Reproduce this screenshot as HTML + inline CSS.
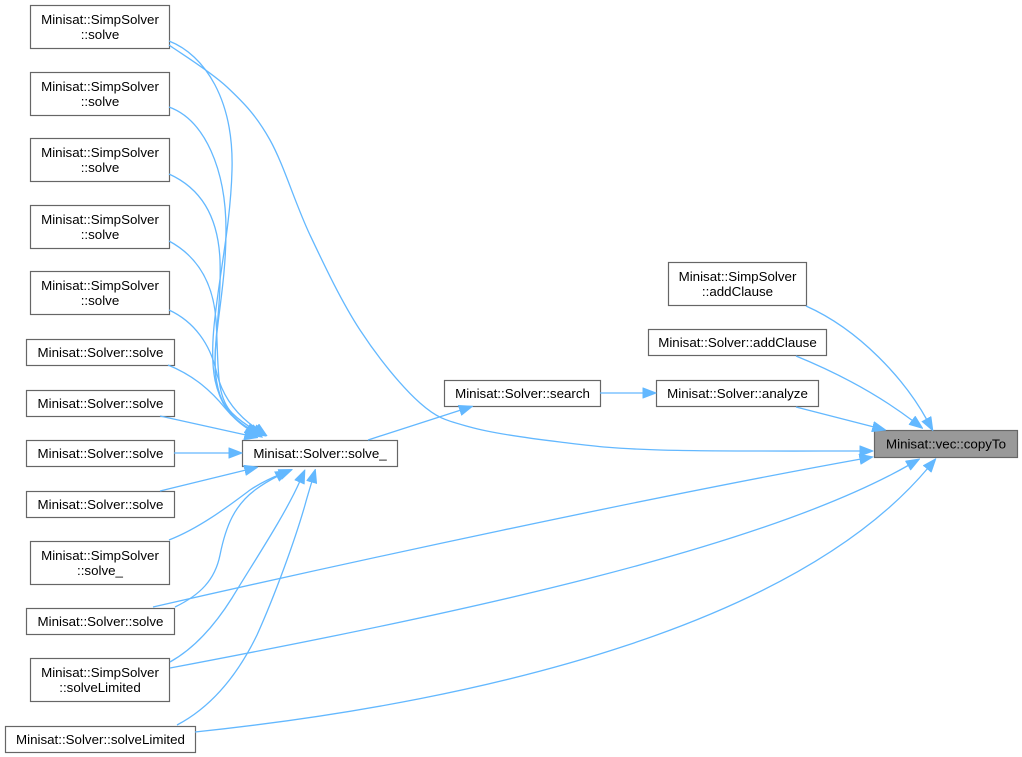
<!DOCTYPE html>
<html>
<head>
<meta charset="utf-8">
<style>
html,body{margin:0;padding:0;background:#ffffff;}
svg{display:block;}
text{font-family:"Liberation Sans",Arial,sans-serif;font-size:13.33px;fill:#000;text-anchor:middle;}
.n{fill:#ffffff;stroke:#666666;stroke-width:1.2;}
.g{fill:#999999;stroke:#666666;stroke-width:1.2;}
.e{fill:none;stroke:#63b8ff;stroke-width:1.3;marker-end:url(#a);}
</style>
</head>
<body>
<svg width="1022" height="757" viewBox="0 0 1022 757" xmlns="http://www.w3.org/2000/svg">
<defs>
<marker id="a" markerWidth="14" markerHeight="11" refX="1.5" refY="5.5" orient="auto" markerUnits="userSpaceOnUse" viewBox="0 0 14 11">
<path d="M0.5,0.5L13.5,5.5L0.5,10.5z" fill="#63b8ff" stroke="#63b8ff" stroke-width="1"/>
</marker>
</defs>

<!-- Nodes -->
<rect class="n" x="30.5" y="5.5" width="139" height="43"/>
<text x="100" y="24">Minisat::SimpSolver</text>
<text x="100" y="39">::solve</text>

<rect class="n" x="30.5" y="72.5" width="139" height="43"/>
<text x="100" y="91">Minisat::SimpSolver</text>
<text x="100" y="106">::solve</text>

<rect class="n" x="30.5" y="138.5" width="139" height="43"/>
<text x="100" y="157">Minisat::SimpSolver</text>
<text x="100" y="172">::solve</text>

<rect class="n" x="30.5" y="205.5" width="139" height="43"/>
<text x="100" y="224">Minisat::SimpSolver</text>
<text x="100" y="239">::solve</text>

<rect class="n" x="30.5" y="271.5" width="139" height="43"/>
<text x="100" y="290">Minisat::SimpSolver</text>
<text x="100" y="305">::solve</text>

<rect class="n" x="26.5" y="339.5" width="148" height="26"/>
<text x="100.5" y="357">Minisat::Solver::solve</text>

<rect class="n" x="26.5" y="390.5" width="148" height="26"/>
<text x="100.5" y="408">Minisat::Solver::solve</text>

<rect class="n" x="26.5" y="440.5" width="148" height="26"/>
<text x="100.5" y="458">Minisat::Solver::solve</text>

<rect class="n" x="26.5" y="491.5" width="148" height="26"/>
<text x="100.5" y="509">Minisat::Solver::solve</text>

<rect class="n" x="30.5" y="541.5" width="139" height="43"/>
<text x="100" y="560">Minisat::SimpSolver</text>
<text x="100" y="575">::solve_</text>

<rect class="n" x="26.5" y="608.5" width="148" height="26"/>
<text x="100.5" y="626">Minisat::Solver::solve</text>

<rect class="n" x="30.5" y="658.5" width="139" height="43"/>
<text x="100" y="677">Minisat::SimpSolver</text>
<text x="100" y="692">::solveLimited</text>

<rect class="n" x="5.5" y="726.5" width="190" height="26"/>
<text x="100.5" y="744">Minisat::Solver::solveLimited</text>

<rect class="n" x="242.5" y="440.5" width="155" height="26"/>
<text x="320" y="458">Minisat::Solver::solve_</text>

<rect class="n" x="444.5" y="380.5" width="156" height="26"/>
<text x="522.5" y="398">Minisat::Solver::search</text>

<rect class="n" x="656.5" y="380.5" width="162" height="26"/>
<text x="737.5" y="398">Minisat::Solver::analyze</text>

<rect class="n" x="668.5" y="262.5" width="138" height="43"/>
<text x="737.5" y="281">Minisat::SimpSolver</text>
<text x="737.5" y="296">::addClause</text>

<rect class="n" x="648.5" y="329.5" width="178" height="26"/>
<text x="737.5" y="347">Minisat::Solver::addClause</text>

<rect class="g" x="874.5" y="430.5" width="143" height="27"/>
<text x="946" y="448.5">Minisat::vec::copyTo</text>

<!-- Edges into solve_ (top bundle) -->
<path class="e" d="M169,41 C205,55 234,100 232,170 C230,250 205,330 215,380 C220,405 235,420 248,429"/>
<path class="e" d="M169,107 C205,120 226,170 226,230 C226,300 208,350 218,390 C223,410 238,423 250,430"/>
<path class="e" d="M169,174 C200,188 218,215 220,260 C222,320 208,360 220,395 C226,412 240,424 252,430"/>
<path class="e" d="M169,241 C195,255 213,280 216,320 C219,365 215,395 232,413 C240,421 248,426 255,430"/>
<path class="e" d="M169,310 C195,322 210,345 216,370 C222,398 238,416 257,429"/>
<path class="e" d="M168,365 C195,376 212,392 225,408 C233,418 242,425 252,431"/>
<path class="e" d="M160,416 L246,435"/>
<path class="e" d="M174,453 L230,453"/>
<path class="e" d="M160,491 L246,470"/>

<!-- Edges into solve_ (bottom) -->
<path class="e" d="M169,540 C200,528 230,505 250,490 C262,482 271,478 281,474"/>
<path class="e" d="M175,607 C200,595 215,580 220,555 C226,525 235,505 255,490 C263,484 270,480 278,476"/>
<path class="e" d="M170,662 C195,648 215,625 232,598 C255,560 285,515 300,481"/>
<path class="e" d="M177,725 C215,705 240,670 257,635 C275,595 295,540 305,505 C308,494 310,488 312,481"/>

<!-- solve_ -> search -> analyze -->
<path class="e" d="M368,440 L461,410"/>
<path class="e" d="M600,393 L644,393"/>

<!-- Edges into copyTo -->
<path class="e" d="M796,407 L874,427"/>
<path class="e" d="M806,306 C860,330 905,380 927,420"/>
<path class="e" d="M796,356 C840,374 880,396 913,421"/>
<path class="e" d="M169,45 C178.7,52 210.2,71.2 227,87 C243.8,102.8 256.2,115.3 270,140 C283.8,164.7 295,203.3 310,235 C325,266.7 341.7,302 360,330 C378.3,358 401.7,386.8 420,403 C438.3,419.2 446.7,420.5 470,427 C493.3,433.5 528.3,438.2 560,442 C591.7,445.8 609.8,448.5 660,450 C710.2,451.5 800,451 861,451"/>
<path class="e" d="M153,607 C350,562 650,497 861,459"/>
<path class="e" d="M170,668 C450,615 760,550 909,465"/>
<path class="e" d="M195,732 C500,700 800,620 928,468"/>
</svg>
</body>
</html>
